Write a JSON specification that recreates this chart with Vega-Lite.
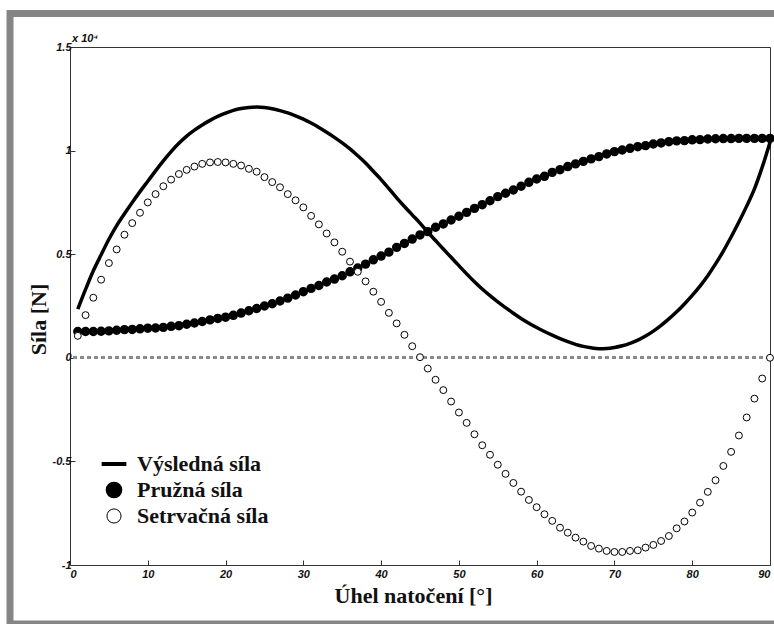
{
  "$schema": "https://vega.github.io/schema/vega-lite/v6.json",
  "width": 700,
  "height": 518,
  "autosize": {"type": "none"},
  "padding": {"left": 70, "top": 47, "right": 4, "bottom": 59},
  "background": "white",
  "title": {"text": "x 10⁴", "anchor": "start", "frame": "group", "fontSize": 11, "font": "Liberation Sans", "fontStyle": "italic", "fontWeight": "bold", "offset": 3, "dx": 2, "dy": 37, "color": "#111111"},
  "config": {
    "view": {"stroke": "#333333", "strokeWidth": 1},
    "axis": {
      "domain": false,
      "grid": false,
      "tickColor": "#333333",
      "tickSize": -5,
      "labelFont": "Liberation Sans",
      "labelFontStyle": "italic",
      "labelFontWeight": "bold",
      "labelFontSize": 11,
      "labelColor": "#111111",
      "titleFont": "Liberation Serif",
      "titleFontWeight": "bold",
      "titleFontSize": 22,
      "titleColor": "#111111"
    },
    "legend": {
      "orient": "none",
      "legendX": 33,
      "legendY": 406,
      "padding": 0,
      "labelFont": "Liberation Serif",
      "labelFontSize": 22,
      "labelFontWeight": "bold",
      "labelColor": "#111111",
      "labelOffset": 12,
      "rowPadding": 2,
      "symbolSize": 200
    }
  },
  "datasets": {
    "result": [
      {"deg": 1, "v": 0.235}, {"deg": 2, "v": 0.33}, {"deg": 3, "v": 0.42}, {"deg": 4, "v": 0.497}, {"deg": 5, "v": 0.572},
      {"deg": 6, "v": 0.638}, {"deg": 7, "v": 0.695}, {"deg": 8, "v": 0.75}, {"deg": 9, "v": 0.802}, {"deg": 10, "v": 0.852},
      {"deg": 11, "v": 0.902}, {"deg": 12, "v": 0.95}, {"deg": 13, "v": 0.995}, {"deg": 14, "v": 1.035}, {"deg": 15, "v": 1.07},
      {"deg": 16, "v": 1.099}, {"deg": 17, "v": 1.124}, {"deg": 18, "v": 1.146}, {"deg": 19, "v": 1.165}, {"deg": 20, "v": 1.181},
      {"deg": 21, "v": 1.194}, {"deg": 22, "v": 1.203}, {"deg": 23, "v": 1.208}, {"deg": 24, "v": 1.21}, {"deg": 25, "v": 1.208},
      {"deg": 26, "v": 1.202}, {"deg": 27, "v": 1.193}, {"deg": 28, "v": 1.182}, {"deg": 29, "v": 1.168}, {"deg": 30, "v": 1.152},
      {"deg": 31, "v": 1.133}, {"deg": 32, "v": 1.112}, {"deg": 33, "v": 1.089}, {"deg": 34, "v": 1.064}, {"deg": 35, "v": 1.037},
      {"deg": 36, "v": 1.008}, {"deg": 37, "v": 0.975}, {"deg": 38, "v": 0.94}, {"deg": 39, "v": 0.9}, {"deg": 40, "v": 0.86},
      {"deg": 41, "v": 0.816}, {"deg": 42, "v": 0.772}, {"deg": 43, "v": 0.73}, {"deg": 44, "v": 0.69}, {"deg": 45, "v": 0.65},
      {"deg": 46, "v": 0.607}, {"deg": 47, "v": 0.566}, {"deg": 48, "v": 0.525}, {"deg": 49, "v": 0.485}, {"deg": 50, "v": 0.445},
      {"deg": 51, "v": 0.405}, {"deg": 52, "v": 0.367}, {"deg": 53, "v": 0.332}, {"deg": 54, "v": 0.3}, {"deg": 55, "v": 0.27},
      {"deg": 56, "v": 0.242}, {"deg": 57, "v": 0.215}, {"deg": 58, "v": 0.19}, {"deg": 59, "v": 0.167}, {"deg": 60, "v": 0.146},
      {"deg": 61, "v": 0.127}, {"deg": 62, "v": 0.109}, {"deg": 63, "v": 0.093}, {"deg": 64, "v": 0.078}, {"deg": 65, "v": 0.065},
      {"deg": 66, "v": 0.055}, {"deg": 67, "v": 0.048}, {"deg": 68, "v": 0.044}, {"deg": 69, "v": 0.045}, {"deg": 70, "v": 0.05},
      {"deg": 71, "v": 0.058}, {"deg": 72, "v": 0.07}, {"deg": 73, "v": 0.085}, {"deg": 74, "v": 0.105}, {"deg": 75, "v": 0.129},
      {"deg": 76, "v": 0.157}, {"deg": 77, "v": 0.188}, {"deg": 78, "v": 0.222}, {"deg": 79, "v": 0.26}, {"deg": 80, "v": 0.301},
      {"deg": 81, "v": 0.346}, {"deg": 82, "v": 0.396}, {"deg": 83, "v": 0.453}, {"deg": 84, "v": 0.515}, {"deg": 85, "v": 0.583},
      {"deg": 86, "v": 0.655}, {"deg": 87, "v": 0.732}, {"deg": 88, "v": 0.815}, {"deg": 89, "v": 0.92}, {"deg": 90, "v": 1.04}
    ],
    "pts": [
      {"deg": 1, "v": 0.127, "s": "Pružná síla"}, {"deg": 2, "v": 0.127, "s": "Pružná síla"}, {"deg": 3, "v": 0.127, "s": "Pružná síla"},
      {"deg": 4, "v": 0.128, "s": "Pružná síla"}, {"deg": 5, "v": 0.13, "s": "Pružná síla"}, {"deg": 6, "v": 0.133, "s": "Pružná síla"},
      {"deg": 7, "v": 0.136, "s": "Pružná síla"}, {"deg": 8, "v": 0.137, "s": "Pružná síla"}, {"deg": 9, "v": 0.14, "s": "Pružná síla"},
      {"deg": 10, "v": 0.143, "s": "Pružná síla"}, {"deg": 11, "v": 0.144, "s": "Pružná síla"}, {"deg": 12, "v": 0.147, "s": "Pružná síla"},
      {"deg": 13, "v": 0.152, "s": "Pružná síla"}, {"deg": 14, "v": 0.155, "s": "Pružná síla"}, {"deg": 15, "v": 0.162, "s": "Pružná síla"},
      {"deg": 16, "v": 0.168, "s": "Pružná síla"}, {"deg": 17, "v": 0.175, "s": "Pružná síla"}, {"deg": 18, "v": 0.183, "s": "Pružná síla"},
      {"deg": 19, "v": 0.19, "s": "Pružná síla"}, {"deg": 20, "v": 0.196, "s": "Pružná síla"}, {"deg": 21, "v": 0.205, "s": "Pružná síla"},
      {"deg": 22, "v": 0.216, "s": "Pružná síla"}, {"deg": 23, "v": 0.227, "s": "Pružná síla"}, {"deg": 24, "v": 0.238, "s": "Pružná síla"},
      {"deg": 25, "v": 0.25, "s": "Pružná síla"}, {"deg": 26, "v": 0.261, "s": "Pružná síla"}, {"deg": 27, "v": 0.274, "s": "Pružná síla"},
      {"deg": 28, "v": 0.288, "s": "Pružná síla"}, {"deg": 29, "v": 0.303, "s": "Pružná síla"}, {"deg": 30, "v": 0.319, "s": "Pružná síla"},
      {"deg": 31, "v": 0.335, "s": "Pružná síla"}, {"deg": 32, "v": 0.349, "s": "Pružná síla"}, {"deg": 33, "v": 0.366, "s": "Pružná síla"},
      {"deg": 34, "v": 0.38, "s": "Pružná síla"}, {"deg": 35, "v": 0.396, "s": "Pružná síla"}, {"deg": 36, "v": 0.415, "s": "Pružná síla"},
      {"deg": 37, "v": 0.433, "s": "Pružná síla"}, {"deg": 38, "v": 0.452, "s": "Pružná síla"}, {"deg": 39, "v": 0.473, "s": "Pružná síla"},
      {"deg": 40, "v": 0.491, "s": "Pružná síla"}, {"deg": 41, "v": 0.51, "s": "Pružná síla"}, {"deg": 42, "v": 0.533, "s": "Pružná síla"},
      {"deg": 43, "v": 0.552, "s": "Pružná síla"}, {"deg": 44, "v": 0.573, "s": "Pružná síla"}, {"deg": 45, "v": 0.593, "s": "Pružná síla"},
      {"deg": 46, "v": 0.609, "s": "Pružná síla"}, {"deg": 47, "v": 0.63, "s": "Pružná síla"}, {"deg": 48, "v": 0.646, "s": "Pružná síla"},
      {"deg": 49, "v": 0.665, "s": "Pružná síla"}, {"deg": 50, "v": 0.683, "s": "Pružná síla"}, {"deg": 51, "v": 0.702, "s": "Pružná síla"},
      {"deg": 52, "v": 0.721, "s": "Pružná síla"}, {"deg": 53, "v": 0.739, "s": "Pružná síla"}, {"deg": 54, "v": 0.758, "s": "Pružná síla"},
      {"deg": 55, "v": 0.778, "s": "Pružná síla"}, {"deg": 56, "v": 0.794, "s": "Pružná síla"}, {"deg": 57, "v": 0.81, "s": "Pružná síla"},
      {"deg": 58, "v": 0.828, "s": "Pružná síla"}, {"deg": 59, "v": 0.847, "s": "Pružná síla"}, {"deg": 60, "v": 0.863, "s": "Pružná síla"},
      {"deg": 61, "v": 0.876, "s": "Pružná síla"}, {"deg": 62, "v": 0.895, "s": "Pružná síla"}, {"deg": 63, "v": 0.908, "s": "Pružná síla"},
      {"deg": 64, "v": 0.923, "s": "Pružná síla"}, {"deg": 65, "v": 0.936, "s": "Pružná síla"}, {"deg": 66, "v": 0.948, "s": "Pružná síla"},
      {"deg": 67, "v": 0.96, "s": "Pružná síla"}, {"deg": 68, "v": 0.971, "s": "Pružná síla"}, {"deg": 69, "v": 0.984, "s": "Pružná síla"},
      {"deg": 70, "v": 0.995, "s": "Pružná síla"}, {"deg": 71, "v": 1.003, "s": "Pružná síla"}, {"deg": 72, "v": 1.011, "s": "Pružná síla"},
      {"deg": 73, "v": 1.019, "s": "Pružná síla"}, {"deg": 74, "v": 1.024, "s": "Pružná síla"}, {"deg": 75, "v": 1.032, "s": "Pružná síla"},
      {"deg": 76, "v": 1.037, "s": "Pružná síla"}, {"deg": 77, "v": 1.043, "s": "Pružná síla"}, {"deg": 78, "v": 1.047, "s": "Pružná síla"},
      {"deg": 79, "v": 1.048, "s": "Pružná síla"}, {"deg": 80, "v": 1.052, "s": "Pružná síla"}, {"deg": 81, "v": 1.053, "s": "Pružná síla"},
      {"deg": 82, "v": 1.056, "s": "Pružná síla"}, {"deg": 83, "v": 1.057, "s": "Pružná síla"}, {"deg": 84, "v": 1.058, "s": "Pružná síla"},
      {"deg": 85, "v": 1.058, "s": "Pružná síla"}, {"deg": 86, "v": 1.059, "s": "Pružná síla"}, {"deg": 87, "v": 1.059, "s": "Pružná síla"},
      {"deg": 88, "v": 1.059, "s": "Pružná síla"}, {"deg": 89, "v": 1.059, "s": "Pružná síla"}, {"deg": 90, "v": 1.059, "s": "Pružná síla"},
      {"deg": 1, "v": 0.106, "s": "Setrvačná síla"}, {"deg": 2, "v": 0.206, "s": "Setrvačná síla"}, {"deg": 3, "v": 0.29, "s": "Setrvačná síla"},
      {"deg": 4, "v": 0.377, "s": "Setrvačná síla"}, {"deg": 5, "v": 0.457, "s": "Setrvačná síla"}, {"deg": 6, "v": 0.523, "s": "Setrvačná síla"},
      {"deg": 7, "v": 0.594, "s": "Setrvačná síla"}, {"deg": 8, "v": 0.65, "s": "Setrvačná síla"}, {"deg": 9, "v": 0.7, "s": "Setrvačná síla"},
      {"deg": 10, "v": 0.75, "s": "Setrvačná síla"}, {"deg": 11, "v": 0.79, "s": "Setrvačná síla"}, {"deg": 12, "v": 0.828, "s": "Setrvačná síla"},
      {"deg": 13, "v": 0.86, "s": "Setrvačná síla"}, {"deg": 14, "v": 0.887, "s": "Setrvačná síla"}, {"deg": 15, "v": 0.907, "s": "Setrvačná síla"},
      {"deg": 16, "v": 0.923, "s": "Setrvačná síla"}, {"deg": 17, "v": 0.936, "s": "Setrvačná síla"}, {"deg": 18, "v": 0.943, "s": "Setrvačná síla"},
      {"deg": 19, "v": 0.945, "s": "Setrvačná síla"}, {"deg": 20, "v": 0.943, "s": "Setrvačná síla"}, {"deg": 21, "v": 0.936, "s": "Setrvačná síla"},
      {"deg": 22, "v": 0.928, "s": "Setrvačná síla"}, {"deg": 23, "v": 0.912, "s": "Setrvačná síla"}, {"deg": 24, "v": 0.898, "s": "Setrvačná síla"},
      {"deg": 25, "v": 0.872, "s": "Setrvačná síla"}, {"deg": 26, "v": 0.848, "s": "Setrvačná síla"}, {"deg": 27, "v": 0.823, "s": "Setrvačná síla"},
      {"deg": 28, "v": 0.79, "s": "Setrvačná síla"}, {"deg": 29, "v": 0.76, "s": "Setrvačná síla"}, {"deg": 30, "v": 0.726, "s": "Setrvačná síla"},
      {"deg": 31, "v": 0.685, "s": "Setrvačná síla"}, {"deg": 32, "v": 0.644, "s": "Setrvačná síla"}, {"deg": 33, "v": 0.6, "s": "Setrvačná síla"},
      {"deg": 34, "v": 0.557, "s": "Setrvačná síla"}, {"deg": 35, "v": 0.512, "s": "Setrvačná síla"}, {"deg": 36, "v": 0.464, "s": "Setrvačná síla"},
      {"deg": 37, "v": 0.415, "s": "Setrvačná síla"}, {"deg": 38, "v": 0.369, "s": "Setrvačná síla"}, {"deg": 39, "v": 0.319, "s": "Setrvačná síla"},
      {"deg": 40, "v": 0.27, "s": "Setrvačná síla"}, {"deg": 41, "v": 0.217, "s": "Setrvačná síla"}, {"deg": 42, "v": 0.166, "s": "Setrvačná síla"},
      {"deg": 43, "v": 0.111, "s": "Setrvačná síla"}, {"deg": 44, "v": 0.056, "s": "Setrvačná síla"}, {"deg": 45, "v": 0.003, "s": "Setrvačná síla"},
      {"deg": 46, "v": -0.052, "s": "Setrvačná síla"}, {"deg": 47, "v": -0.106, "s": "Setrvačná síla"}, {"deg": 48, "v": -0.156, "s": "Setrvačná síla"},
      {"deg": 49, "v": -0.211, "s": "Setrvačná síla"}, {"deg": 50, "v": -0.264, "s": "Setrvačná síla"}, {"deg": 51, "v": -0.314, "s": "Setrvačná síla"},
      {"deg": 52, "v": -0.369, "s": "Setrvačná síla"}, {"deg": 53, "v": -0.422, "s": "Setrvačná síla"}, {"deg": 54, "v": -0.468, "s": "Setrvačná síla"},
      {"deg": 55, "v": -0.516, "s": "Setrvačná síla"}, {"deg": 56, "v": -0.56, "s": "Setrvačná síla"}, {"deg": 57, "v": -0.604, "s": "Setrvačná síla"},
      {"deg": 58, "v": -0.646, "s": "Setrvačná síla"}, {"deg": 59, "v": -0.686, "s": "Setrvačná síla"}, {"deg": 60, "v": -0.721, "s": "Setrvačná síla"},
      {"deg": 61, "v": -0.755, "s": "Setrvačná síla"}, {"deg": 62, "v": -0.787, "s": "Setrvačná síla"}, {"deg": 63, "v": -0.82, "s": "Setrvačná síla"},
      {"deg": 64, "v": -0.844, "s": "Setrvačná síla"}, {"deg": 65, "v": -0.868, "s": "Setrvačná síla"}, {"deg": 66, "v": -0.887, "s": "Setrvačná síla"},
      {"deg": 67, "v": -0.908, "s": "Setrvačná síla"}, {"deg": 68, "v": -0.921, "s": "Setrvačná síla"}, {"deg": 69, "v": -0.932, "s": "Setrvačná síla"},
      {"deg": 70, "v": -0.937, "s": "Setrvačná síla"}, {"deg": 71, "v": -0.937, "s": "Setrvačná síla"}, {"deg": 72, "v": -0.932, "s": "Setrvačná síla"},
      {"deg": 73, "v": -0.929, "s": "Setrvačná síla"}, {"deg": 74, "v": -0.916, "s": "Setrvačná síla"}, {"deg": 75, "v": -0.903, "s": "Setrvačná síla"},
      {"deg": 76, "v": -0.884, "s": "Setrvačná síla"}, {"deg": 77, "v": -0.86, "s": "Setrvačná síla"}, {"deg": 78, "v": -0.823, "s": "Setrvačná síla"},
      {"deg": 79, "v": -0.79, "s": "Setrvačná síla"}, {"deg": 80, "v": -0.747, "s": "Setrvačná síla"}, {"deg": 81, "v": -0.699, "s": "Setrvačná síla"},
      {"deg": 82, "v": -0.647, "s": "Setrvačná síla"}, {"deg": 83, "v": -0.591, "s": "Setrvačná síla"}, {"deg": 84, "v": -0.522, "s": "Setrvačná síla"},
      {"deg": 85, "v": -0.454, "s": "Setrvačná síla"}, {"deg": 86, "v": -0.375, "s": "Setrvačná síla"}, {"deg": 87, "v": -0.288, "s": "Setrvačná síla"},
      {"deg": 88, "v": -0.197, "s": "Setrvačná síla"}, {"deg": 89, "v": -0.1, "s": "Setrvačná síla"}, {"deg": 90, "v": 0.0, "s": "Setrvačná síla"}
    ],
    "frame": [{"x1": -7.714, "x2": 92, "y1": 1.6617, "y2": -1.2848}]
  },
  "layer": [
    {
      "data": {"name": "frame"},
      "mark": {"type": "rect", "fill": null, "stroke": "#858585", "strokeWidth": 7, "clip": false},
      "encoding": {
        "x": {"field": "x1", "type": "quantitative", "scale": {"domain": [0, 90], "nice": false, "zero": false}},
        "x2": {"field": "x2"},
        "y": {"field": "y1", "type": "quantitative", "scale": {"domain": [-1, 1.5], "nice": false, "zero": false}},
        "y2": {"field": "y2"}
      }
    },
    {
      "data": {"name": "result"},
      "mark": {"type": "rule", "stroke": "#8a8a8a", "strokeWidth": 2, "strokeDash": [4, 3]},
      "encoding": {"y": {"datum": 0, "type": "quantitative"}}
    },
    {
      "data": {"name": "result"},
      "mark": {"type": "line", "color": "black", "strokeWidth": 3.5, "interpolate": "monotone"},
      "encoding": {
        "x": {"field": "deg", "type": "quantitative", "title": "Úhel natočení [°]",
              "axis": {"values": [0, 10, 20, 30, 40, 50, 60, 70, 80, 90], "labelPadding": 8, "titlePadding": 6, "titleX": 343}},
        "y": {"field": "v", "type": "quantitative", "title": "Síla [N]",
              "axis": {"values": [-1, -0.5, 0, 0.5, 1, 1.5], "labelExpr": "datum.value + ''", "labelPadding": 4, "titlePadding": 2, "titleY": 272}}
      }
    },
    {
      "data": {"name": "pts"},
      "mark": {"type": "point", "filled": true, "strokeWidth": 1, "size": 48, "opacity": 1},
      "encoding": {
        "x": {"field": "deg", "type": "quantitative"},
        "y": {"field": "v", "type": "quantitative"},
        "shape": {"field": "s", "type": "nominal",
                  "scale": {"domain": ["Výsledná síla", "Pružná síla", "Setrvačná síla"], "range": ["M-1.75,0H1.75", "circle", "circle"]},
                  "legend": {"title": null}},
        "fill": {"field": "s", "type": "nominal",
                 "scale": {"domain": ["Výsledná síla", "Pružná síla", "Setrvačná síla"], "range": ["black", "black", "white"]},
                 "legend": {"title": null}},
        "stroke": {"field": "s", "type": "nominal",
                   "scale": {"domain": ["Výsledná síla", "Pružná síla", "Setrvačná síla"], "range": ["black", "black", "black"]},
                   "legend": {"title": null}},
        "strokeWidth": {"field": "s", "type": "nominal",
                        "scale": {"domain": ["Výsledná síla", "Pružná síla", "Setrvačná síla"], "range": [4, 1, 1]},
                        "legend": {"title": null}}
      }
    }
  ]
}
